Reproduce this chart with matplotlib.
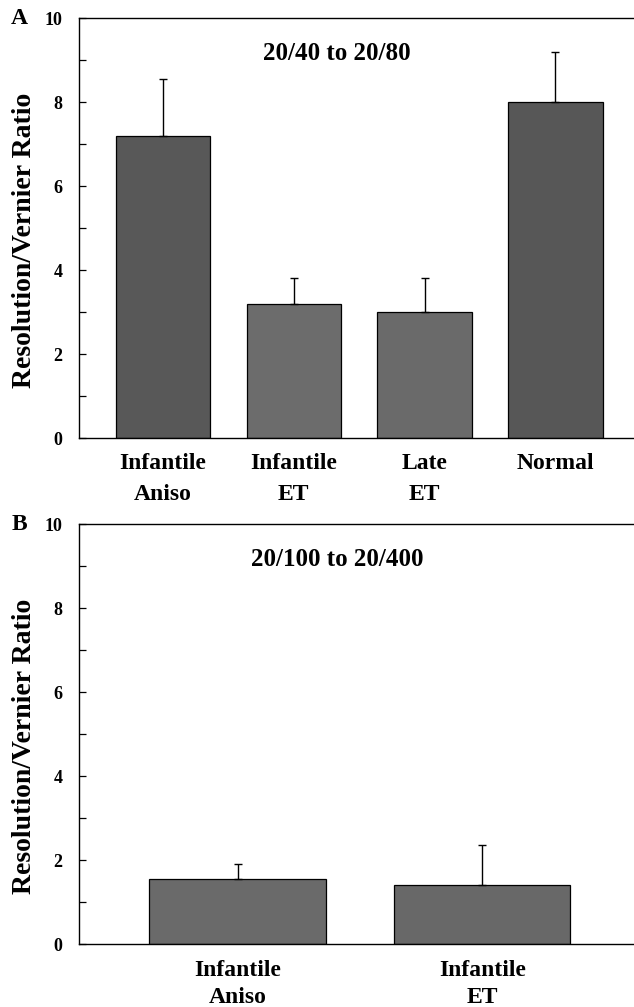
import matplotlib.pyplot as plt
from matplotlib.ticker import MultipleLocator

plt.rcParams['font.family'] = ['Liberation Serif', 'DejaVu Serif']
plt.rcParams['font.weight'] = 'bold'

# panel A: 20/40 to 20/80
groups_a = ['Infantile\nAniso', 'Infantile\nET', 'Late\nET', 'Normal']
ratio_a = [7.2, 3.2, 3.0, 8.0]
err_a = [1.35, 0.6, 0.8, 1.2]
colors_a = ['#585858', '#6c6c6c', '#6a6a6a', '#575757']

# panel B: 20/100 to 20/400
groups_b = ['Infantile\nAniso', 'Infantile\nET']
ratio_b = [1.55, 1.40]
err_b = [0.37, 0.96]
colors_b = ['#6a6a6a', '#686868']

fig = plt.figure(figsize=(6.34, 10.07), dpi=100)
ax_a = fig.add_axes([0.1246, 0.565, 0.8754, 0.417])
ax_b = fig.add_axes([0.1246, 0.0623, 0.8754, 0.4173])


def draw(ax, groups, vals, errs, cols, title, letter, xlim, lsp):
    x = range(len(vals))
    ax.bar(x, vals, width=0.72, color=cols, edgecolor='black', linewidth=0.9,
           yerr=[[0] * len(vals), errs], capsize=3,
           error_kw=dict(elinewidth=1, capthick=1, ecolor='black'))
    ax.set_xlim(*xlim)
    ax.set_ylim(0, 10)
    ax.yaxis.set_major_locator(MultipleLocator(2))
    ax.yaxis.set_minor_locator(MultipleLocator(1))
    ax.tick_params(axis='y', which='both', direction='in', length=5, width=0.9,
                   labelsize=13, pad=12)
    ax.tick_params(axis='x', length=0, labelsize=17, pad=11)
    ax.set_xticks(list(x))
    ax.set_xticklabels(groups, fontweight='bold', linespacing=lsp)
    for lab in ax.get_yticklabels():
        lab.set_fontweight('bold')
    ax.spines['right'].set_visible(False)
    for s in ['top', 'left', 'bottom']:
        ax.spines[s].set_linewidth(1.0)
    ax.set_ylabel('Resolution/Vernier Ratio', fontsize=20, fontweight='bold')
    ax.yaxis.set_label_coords(-0.076, 0.47)
    ax.text(0.465, 0.915, title, transform=ax.transAxes, ha='center', va='center',
            fontsize=18, fontweight='bold')
    ax.text(-0.107, 1.0, letter, transform=ax.transAxes, ha='center', va='center',
            fontsize=17, fontweight='bold')


draw(ax_a, groups_a, ratio_a, err_a, colors_a, '20/40 to 20/80', 'A', (-0.64, 3.60), 1.6)
draw(ax_b, groups_b, ratio_b, err_b, colors_b, '20/100 to 20/400', 'B', (-0.648, 1.62), 1.4)

fig.savefig('out.png', dpi=100)
